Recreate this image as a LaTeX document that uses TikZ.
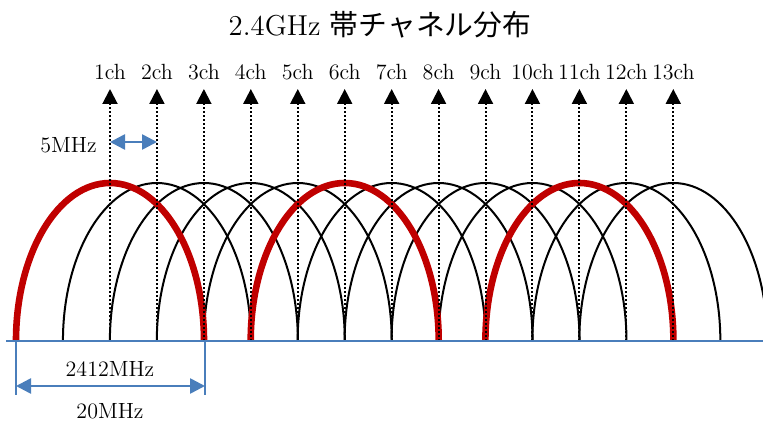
\documentclass[tikz,border=0pt]{standalone}
\usepackage{fontspec}
\newfontfamily\jpfont{Noto Sans CJK JP}
\usetikzlibrary{arrows.meta}
\definecolor{chred}{RGB}{192,0,0}
\definecolor{dimblue}{RGB}{74,126,187}
\tikzset{
  arcline/.style={black, line width=1pt},
  redline/.style={chred, line width=3.3pt},
  chlabel/.style={font=\fontsize{11}{13}\selectfont, inner sep=0pt},
  charrow/.style={line width=1pt, dash pattern=on 1pt off 1pt, -{Triangle[width=7.5pt,length=7.5pt]}},
  dimline/.style={dimblue, line width=0.8pt},
  dimarrow/.style={dimblue, line width=1.3pt, {Triangle[width=7.5pt,length=7.5pt]}-{Triangle[width=7.5pt,length=7.5pt]}}
}
\begin{document}
\begin{tikzpicture}[x=0.5pt, y=0.5pt]
\clip (0,0) rectangle (763,423);

% title
\node (title) at (380,398) {\fontsize{14.4}{17}\selectfont 2.4GHz {\jpfont 帯チャネル分布}};

% channel positions and labels
\foreach \i in {1,...,13}{
  \pgfmathsetmacro{\cx}{110+(\i-1)*46.94}
  \coordinate (b\i) at (\cx,82);
  \coordinate (t\i) at (\cx,334);
  \node [chlabel] (ch\i) at (\cx,351) {\i ch};
}

% black channel arcs
\foreach \i in {2,3,4,5,7,8,9,10,12,13}
  \draw [arcline] ([xshift=-47pt]b\i) arc[start angle=180, end angle=0, x radius=47pt, y radius=79pt];

% non-overlapping channels 1, 6, 11
\foreach \i in {1,6,11}
  \draw [redline] ([xshift=-47pt]b\i) arc[start angle=180, end angle=0, x radius=47pt, y radius=79pt];

% dotted arrows
\foreach \i in {1,...,13}
  \draw [charrow] (b\i) -- (t\i);

% frequency axis
\coordinate (axl) at (6,82);
\coordinate (axr) at (763,82);
\draw [dimblue, line width=1pt] (axl) -- (axr);

% 5MHz spacing
\coordinate (s1) at (110,281);
\coordinate (s2) at (157,281);
\draw [dimarrow] (s1) -- (s2);
\node (fivemhz) [chlabel, left] at (97,278) {5MHz};

% 20MHz bandwidth
\coordinate (w1) at (16,82);
\coordinate (w2) at (205,82);
\coordinate (w1b) at (16,28);
\coordinate (w2b) at (205,28);
\draw [dimline] (w1) -- (w1b);
\draw [dimline] (w2) -- (w2b);
\coordinate (d1) at (16,37);
\coordinate (d2) at (205,37);
\draw [dimarrow] (d1) -- (d2);
\node (center) [chlabel] at (110,54) {2412MHz};
\node (width) [chlabel] at (110,12) {20MHz};
\end{tikzpicture}
\end{document}
